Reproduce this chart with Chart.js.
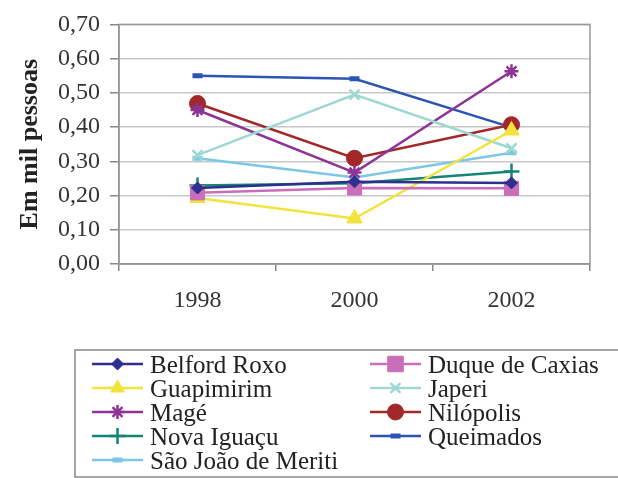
<!DOCTYPE html>
<html>
<head>
<meta charset="utf-8">
<script src="https://cdn.jsdelivr.net/npm/chart.js@4/dist/chart.umd.min.js"></script>
<style>
  body { margin: 0; background: #fff; }
  canvas { display: block; }
</style>
</head>
<body>
<canvas id="chart" width="618" height="478"></canvas>
<script>
const years = ['1998', '2000', '2002'];
const belfordRoxo = [0.222, 0.240, 0.237];
const duqueDeCaxias = [0.208, 0.222, 0.221];
const guapimirim = [0.193, 0.133, 0.390];
const japeri = [0.318, 0.495, 0.338];
const mage = [0.450, 0.267, 0.563];
const nilopolis = [0.469, 0.309, 0.407];
const novaIguacu = [0.229, 0.236, 0.270];
const queimados = [0.550, 0.541, 0.399];
const saoJoao = [0.309, 0.253, 0.325];

const serif = "'Liberation Serif', 'DejaVu Serif', serif";

function series(label, data, color, style, radius, width) {
    return {
        label: label,
        data: data,
        borderColor: color,
        backgroundColor: color,
        borderWidth: 2.5,
        pointStyle: style,
        pointRadius: radius,
        pointBorderWidth: width || 1,
        pointBorderColor: color,
        pointBackgroundColor: color,
        tension: 0,
        fill: false
    };
}

const datasets = [
    series('Belford Roxo', belfordRoxo, '#2e2f8f', 'rectRot', 6),
    series('Duque de Caxias', duqueDeCaxias, '#c96fba', 'rect', 10),
    series('Guapimirim', guapimirim, '#f2e23c', 'triangle', 9),
    series('Japeri', japeri, '#9ed8d2', 'crossRot', 7, 2.5),
    series('Magé', mage, '#8c3596', 'star', 7, 2.5),
    series('Nilópolis', nilopolis, '#a3282a', 'circle', 8),
    series('Nova Iguaçu', novaIguacu, '#138577', 'cross', 8, 2.5),
    series('Queimados', queimados, '#2c55b3', 'line', 5, 5),
    series('São João de Meriti', saoJoao, '#7cc6e6', 'line', 5, 5)
];

// box round the plot and the two-column legend below it
const extras = {
    id: 'extras',
    afterDraw(chart) {
        const ctx = chart.ctx;
        const a = chart.chartArea;
        ctx.save();
        ctx.strokeStyle = '#999';
        ctx.lineWidth = 1.5;
        ctx.strokeRect(a.left, a.top, a.right - a.left, a.bottom - a.top);

        ctx.strokeStyle = '#888';
        ctx.strokeRect(75, 350, 560, 127);

        ctx.font = '25px ' + serif;
        ctx.textBaseline = 'middle';
        ctx.textAlign = 'left';
        chart.data.datasets.forEach((ds, i) => {
            const col = i % 2;
            const row = Math.floor(i / 2);
            const x0 = col ? 370 : 92;
            const x1 = x0 + 51;
            const y = 364 + row * 24;
            ctx.strokeStyle = ds.borderColor;
            ctx.lineWidth = 2.5;
            ctx.beginPath();
            ctx.moveTo(x0, y);
            ctx.lineTo(x1, y);
            ctx.stroke();
            ctx.fillStyle = ds.pointBackgroundColor;
            ctx.strokeStyle = ds.pointBorderColor;
            ctx.lineWidth = ds.pointBorderWidth;
            Chart.helpers.drawPoint(ctx, {
                pointStyle: ds.pointStyle,
                radius: ds.pointStyle === 'rect' ? 11 : Math.min(ds.pointRadius, 8),
                rotation: 0,
                borderWidth: ds.pointBorderWidth
            }, (x0 + x1) / 2, y);
            ctx.fillStyle = '#222';
            ctx.fillText(ds.label, x1 + 7, y + 2);
        });
        ctx.restore();
    }
};

new Chart(document.getElementById('chart'), {
    type: 'line',
    data: { labels: years, datasets: datasets },
    plugins: [extras],
    options: {
        responsive: false,
        animation: false,
        layout: { padding: { top: 22, right: 28, bottom: 164, left: 0 } },
        plugins: {
            legend: { display: false },
            tooltip: { enabled: false }
        },
        scales: {
            x: {
                offset: true,
                afterFit: scale => { scale.height = 50; },
                grid: {
                    offset: true,
                    drawOnChartArea: false,
                    tickLength: 7,
                    tickColor: '#888',
                    lineWidth: 1.5
                },
                border: { color: '#888', width: 1.5 },
                ticks: {
                    color: '#333',
                    padding: 15,
                    font: { family: serif, size: 24 }
                }
            },
            y: {
                min: 0,
                max: 0.7,
                afterFit: scale => { scale.width = 119; },
                title: {
                    display: true,
                    text: 'Em mil pessoas',
                    color: '#222',
                    padding: { top: 15, bottom: 0 },
                    font: { family: serif, size: 26, weight: 'bold' }
                },
                grid: {
                    color: '#c8c8c8',
                    lineWidth: 1.5,
                    tickLength: 9,
                    tickColor: '#888'
                },
                border: { color: '#888', width: 1.5 },
                ticks: {
                    stepSize: 0.1,
                    padding: 10,
                    color: '#333',
                    font: { family: serif, size: 24 },
                    callback: v => (Math.round(v * 100) / 100).toFixed(2).replace('.', ',')
                }
            }
        }
    }
});
</script>
</body>
</html>
